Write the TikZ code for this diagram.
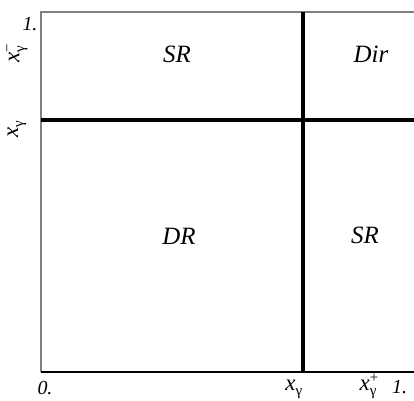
\documentclass[tikz,border=0pt]{standalone}
\usepackage{fontspec}
\setmainfont{Liberation Serif}
\begin{document}
\begin{tikzpicture}[x=1bp, y=-1bp, line cap=butt,
		region/.style={font=\fontsize{25}{25}\selectfont\itshape, anchor=base},
		axislabel/.style={font=\fontsize{20}{20}\selectfont\itshape, anchor=base, inner sep=0pt},
		frameline/.style={line width=1.1bp},
		cut/.style={line width=4bp, black}]
	\def\xg#1{{\fontsize{23}{23}\selectfont\textit{x}}$_{\hbox{\fontsize{15}{15}\selectfont\upshape γ}}^{\hbox{\fontsize{15}{15}\selectfont\upshape #1}}$}
	\useasboundingbox (0,0) rectangle (414,401);
	% frame
	\coordinate (o) at (41,372);
	\coordinate (tl) at (41,12);
	\coordinate (tr) at (414,12);
	\coordinate (br) at (414,372);
	\draw[frameline, black!50] (o) -- (tl) -- (tr);
	\draw[frameline, black] (o) -- (br);
	% x_gamma cuts
	\draw[cut] (303,12) -- (303,372);
	\draw[cut] (41,119.5) -- (414,119.5);
	% regions
	\node[region] (sr1) at (177,62) {SR};
	\node[region] (dir) at (371,62) {Dir};
	\node[region] (dr) at (179,244) {DR};
	\node[region] (sr2) at (365,243) {SR};
	% axis labels
	\node[axislabel] (zero) at (45,394) {0.};
	\node[axislabel] (xg) at (294,390) {\xg{}};
	\node[axislabel, anchor=base east] (xgp) at (379,390) {\xg{+}};
	\node[axislabel, anchor=base west] (onex) at (392,393) {1.};
	\node[axislabel] (oney) at (30,30) {1.};
	\node[axislabel, anchor=center, rotate=90] (xgm) at (17,53) {\xg{\textminus}};
	\node[axislabel, anchor=center, rotate=90] (xgy) at (17,129) {\xg{}};
\end{tikzpicture}
\end{document}
